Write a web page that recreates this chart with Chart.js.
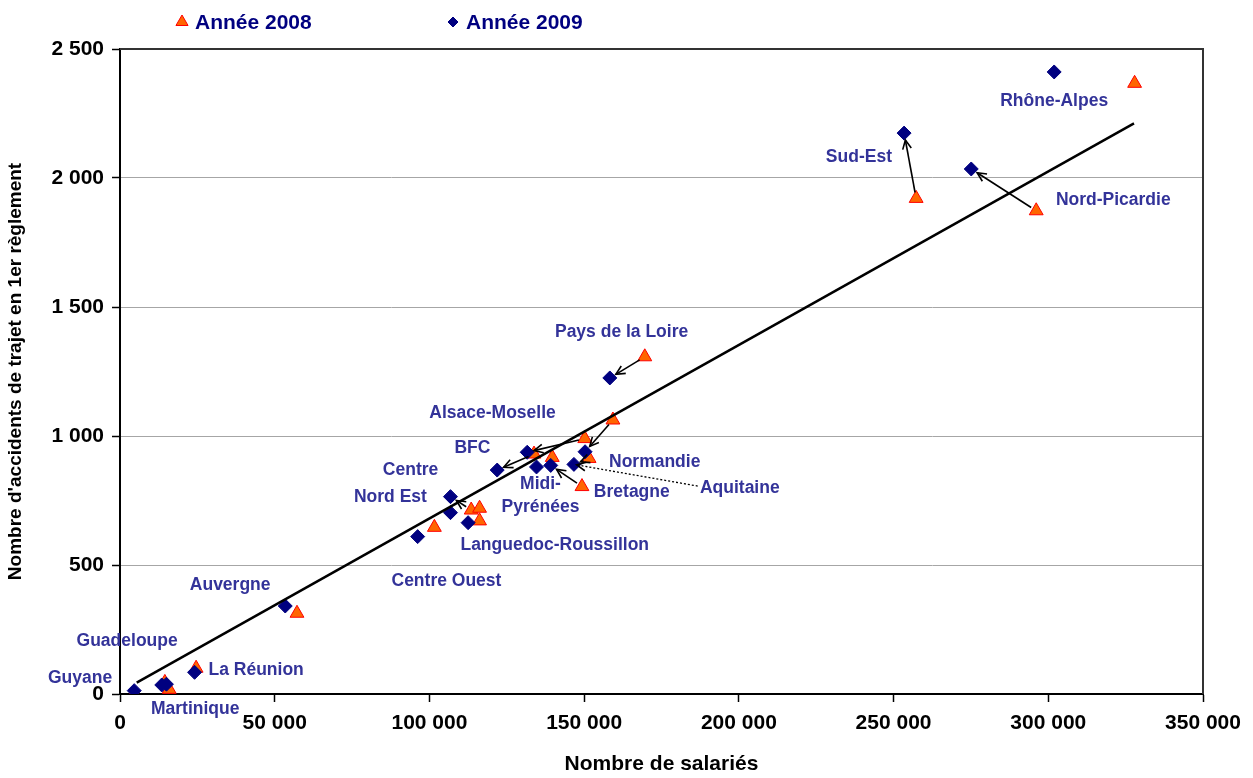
<!DOCTYPE html>
<html>
<head>
<meta charset="utf-8">
<script src="https://cdn.jsdelivr.net/npm/chart.js@4.4.1/dist/chart.umd.min.js"></script>
<style>
  body { margin: 0; background: #fff; }
</style>
</head>
<body>
<canvas id="chart" width="1253" height="778"></canvas>
<script>
// valeurs
const salaries2008 = [327900, 257300, 296100, 169600, 159300, 150200, 133800, 139700, 151600, 149300, 113500, 116200, 116200, 101600, 57200, 24600, 14500, 15900, 4600];
const accidents2008 = [2367, 1921, 1873, 1307, 1062, 990, 930, 917, 913, 804, 713, 720, 671, 646, 313, 100, 45, 18, 0];
const salaries2009 = [301900, 253400, 275100, 158300, 131600, 150300, 121900, 134600, 139200, 146700, 106800, 106800, 112500, 96200, 53400, 24100, 13500, 15000, 4600];
const accidents2009 = [2411, 2174, 2035, 1225, 937, 939, 868, 880, 886, 890, 765, 703, 664, 610, 341, 84, 35, 38, 13];

// droite de tendance (deux extrémités lues)
const trendX = [5400, 327700];
const trendY = [44, 2212];

// étiquettes des régions (position en unités du graphique)
const regionNames = ['Rhône-Alpes', 'Sud-Est', 'Nord-Picardie', 'Pays de la Loire', 'Alsace-Moselle', 'BFC', 'Centre', 'Nord Est',
  'Normandie', 'Aquitaine', 'Bretagne', 'Midi-\nPyrénées', 'Languedoc-Roussillon', 'Centre Ouest', 'Auvergne', 'Guadeloupe',
  'La Réunion', 'Guyane', 'Martinique'];
const labelX = [301900, 238800, 321000, 162100, 120400, 113900, 93900, 87400, 172800, 200300, 165400, 135900, 140500, 105500, 35600, 2300, 44000, -12900, 24300];
const labelY = [2298, 2081, 1915, 1403, 1089, 953, 868, 764, 899, 798, 783, 767, 578, 438, 422, 205, 93, 62, -58];

// flèches 2008 -> 2009
const arrowFrom = [[257300, 1921], [296100, 1873], [169600, 1307], [159300, 1062], [150200, 990], [133800, 930], [149300, 804], [113500, 713], [151600, 913]];
const arrowTo = [[253400, 2174], [275100, 2035], [158300, 1225], [150300, 939], [131600, 937], [121900, 868], [139200, 886], [106800, 765], [146700, 890]];
// renvoi pointillé Aquitaine
const leaderFrom = [186700, 806];
const leaderTo = [147600, 888];

const FONT = "'Liberation Sans', Arial, sans-serif";
const LABEL_COLOR = '#333399';
const NAVY = '#000080';

const fmt = v => String(v).replace(/\B(?=(\d{3})+(?!\d))/g, ' ');

function drawArrow(ctx, x1, y1, x2, y2, startGap, endGap, dotted) {
    const a = Math.atan2(y2 - y1, x2 - x1);
    const sx = x1 + Math.cos(a) * startGap, sy = y1 + Math.sin(a) * startGap;
    const ex = x2 - Math.cos(a) * endGap, ey = y2 - Math.sin(a) * endGap;
    ctx.save();
    ctx.strokeStyle = '#000';
    ctx.lineWidth = dotted ? 1.3 : 1.6;
    ctx.setLineDash(dotted ? [2, 2] : []);
    ctx.beginPath();
    ctx.moveTo(sx, sy);
    ctx.lineTo(ex, ey);
    ctx.stroke();
    ctx.setLineDash([]);
    ctx.lineWidth = 1.6;
    ctx.beginPath();
    ctx.moveTo(ex - Math.cos(a - 0.45) * 10, ey - Math.sin(a - 0.45) * 10);
    ctx.lineTo(ex, ey);
    ctx.lineTo(ex - Math.cos(a + 0.45) * 10, ey - Math.sin(a + 0.45) * 10);
    ctx.stroke();
    ctx.restore();
}

const annotations = {
    id: 'annotations',
    afterDatasetsDraw(chart) {
        const { ctx, scales: { x, y } } = chart;
        arrowFrom.forEach((p, i) => {
            const q = arrowTo[i];
            drawArrow(ctx, x.getPixelForValue(p[0]), y.getPixelForValue(p[1]),
                x.getPixelForValue(q[0]), y.getPixelForValue(q[1]), 6, 7, false);
        });
        drawArrow(ctx, x.getPixelForValue(leaderFrom[0]), y.getPixelForValue(leaderFrom[1]),
            x.getPixelForValue(leaderTo[0]), y.getPixelForValue(leaderTo[1]), 0, 0, true);
    },
    afterDraw(chart) {
        const { ctx, chartArea, scales: { x, y } } = chart;

        // cadre haut et droit
        ctx.save();
        ctx.strokeStyle = '#333';
        ctx.lineWidth = 2;
        ctx.beginPath();
        ctx.moveTo(chartArea.left, chartArea.top);
        ctx.lineTo(chartArea.right, chartArea.top);
        ctx.lineTo(chartArea.right, chartArea.bottom);
        ctx.stroke();
        ctx.restore();

        // noms des régions
        ctx.save();
        ctx.fillStyle = LABEL_COLOR;
        ctx.font = 'bold 17.5px ' + FONT;
        ctx.textAlign = 'center';
        ctx.textBaseline = 'middle';
        regionNames.forEach((name, i) => {
            const lines = name.split('\n');
            const px = x.getPixelForValue(labelX[i]);
            const py = y.getPixelForValue(labelY[i]);
            lines.forEach((ln, k) => {
                ctx.fillText(ln, px, py + (k - (lines.length - 1) / 2) * 23);
            });
        });
        ctx.restore();

        // légende
        ctx.save();
        ctx.font = 'bold 21px ' + FONT;
        ctx.textBaseline = 'middle';
        const items = chart.data.datasets.filter(d => d.legendX !== undefined);
        items.forEach(d => {
            ctx.fillStyle = d.backgroundColor;
            ctx.strokeStyle = d.borderColor;
            Chart.helpers.drawPoint(ctx, {
                pointStyle: d.pointStyle, radius: d.legendRadius, rotation: 0, borderWidth: 1
            }, d.legendX, 22);
            ctx.fillStyle = NAVY;
            ctx.fillText(d.label, d.legendX + 13, 23);
        });
        ctx.restore();
    }
};

const ctx = document.getElementById('chart').getContext('2d');
new Chart(ctx, {
    type: 'scatter',
    data: {
        datasets: [
            {
                label: 'Tendance',
                type: 'line',
                data: trendX.map((v, i) => ({ x: v, y: trendY[i] })),
                borderColor: '#000',
                borderWidth: 2.5,
                pointRadius: 0,
                fill: false,
                order: 0
            },
            {
                label: 'Année 2009',
                data: salaries2009.map((v, i) => ({ x: v, y: accidents2009[i] })),
                pointStyle: 'rectRot',
                pointRadius: 7,
                backgroundColor: NAVY,
                borderColor: NAVY,
                borderWidth: 1,
                legendX: 453,
                legendRadius: 5,
                order: 1
            },
            {
                label: 'Année 2008',
                data: salaries2008.map((v, i) => ({ x: v, y: accidents2008[i] })),
                pointStyle: 'triangle',
                pointRadius: 8,
                backgroundColor: '#FF6600',
                borderColor: '#FF0000',
                borderWidth: 1,
                legendX: 182,
                legendRadius: 7,
                order: 2
            }
        ]
    },
    options: {
        responsive: false,
        animation: false,
        layout: { padding: { top: 49, right: 50, left: 0, bottom: 0 } },
        plugins: {
            legend: { display: false },
            tooltip: { enabled: false }
        },
        scales: {
            x: {
                type: 'linear',
                min: 0,
                max: 350000,
                afterFit: s => { s.height = 84; },
                ticks: {
                    stepSize: 50000,
                    color: '#000',
                    padding: 9,
                    font: { family: FONT, size: 21, weight: 'bold' },
                    callback: v => fmt(v),
                    maxRotation: 0
                },
                grid: { drawOnChartArea: false, drawTicks: true, tickLength: 8, tickColor: '#000', tickWidth: 1.5 },
                border: { color: '#000', width: 2 },
                title: {
                    display: true,
                    text: 'Nombre de salariés',
                    color: '#000',
                    font: { family: FONT, size: 21, weight: 'bold' },
                    padding: { top: 0, bottom: 1 }
                }
            },
            y: {
                min: 0,
                max: 2500,
                afterFit: s => { s.width = 120; },
                ticks: {
                    stepSize: 500,
                    color: '#000',
                    padding: 8,
                    font: { family: FONT, size: 21, weight: 'bold' },
                    callback: v => fmt(v)
                },
                grid: { color: '#a6a6a6', lineWidth: 1, tickLength: 8, tickColor: '#000', tickWidth: 1.5 },
                border: { color: '#000', width: 2 },
                title: {
                    display: true,
                    text: "Nombre d'accidents de trajet en 1er règlement",
                    color: '#000',
                    font: { family: FONT, size: 19, weight: 'bold' },
                    padding: { top: 4, bottom: 0 }
                }
            }
        }
    },
    plugins: [annotations]
});
</script>
</body>
</html>
